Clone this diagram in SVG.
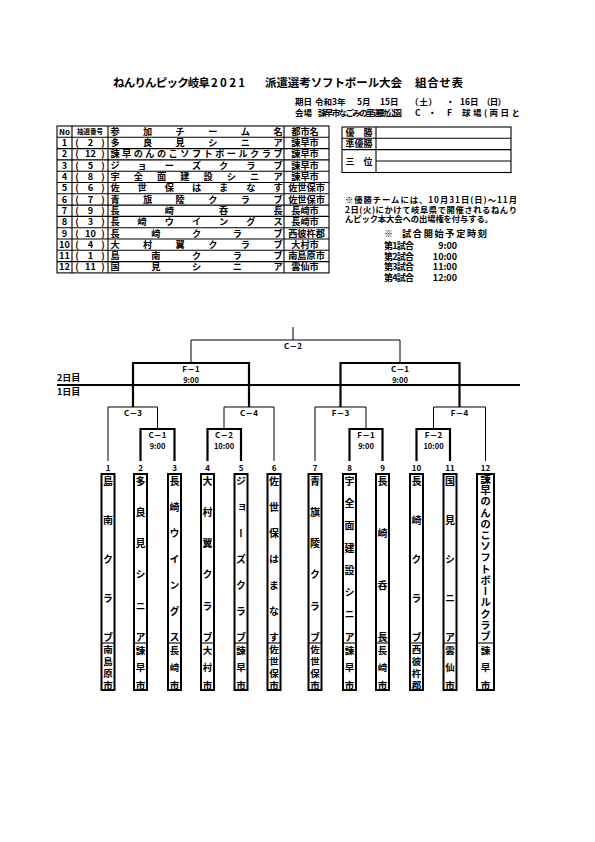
<svg xmlns="http://www.w3.org/2000/svg" width="595" height="842" viewBox="0 0 595 842">
<style>
.t{font-family:"Noto Sans CJK JP","Noto Sans",sans-serif;font-weight:bold;fill:#000}
.m{text-anchor:middle}
.v{writing-mode:vertical-rl;text-anchor:middle}
.thin{stroke:#000;stroke-width:1;fill:none}
.thick{stroke:#000;stroke-width:2.2;fill:none}
.tb{stroke:#000;stroke-width:2;fill:#fff}
.g{stroke:#000;stroke-width:1.1;fill:none}
</style>
<rect width="595" height="842" fill="#fff"/>

<g id="title">
<text class="t" font-size="11.5" x="113" y="87" textLength="97">ねんりんピック岐阜</text>
<text class="t" font-size="11.5" x="211" y="87" textLength="34">2021</text>
<text class="t" font-size="11.5" x="265" y="87" textLength="137">派遣選考ソフトボール大会</text>
<text class="t" font-size="11.5" x="415" y="87" textLength="48">組合せ表</text>
</g>
<g id="date" class="t" font-size="8.5">
<text x="295" y="105">期日</text>
<text x="315" y="105">令和3年</text>
<text x="357" y="105">5月</text>
<text x="380" y="105">15日</text>
<text x="410" y="105" textLength="27">（土）</text>
<text x="446" y="105">・</text>
<text x="460" y="105">16日</text>
<text x="482" y="105" textLength="24">（日）</text>
<text x="295" y="115.5">会場</text>
<text x="318" y="115.5" textLength="84">諫早市なごみの里運動公園</text>
<text x="415" y="115.5">C</text>
<text x="428" y="115.5">・</text>
<text x="447" y="115.5">F</text>
<text x="462" y="115.5" textLength="58">球場(両日と</text>
</g>

<g id="entry-table">
<rect class="g" x="57" y="126" width="272" height="146.9" stroke-width="2"/>
<path class="g" d="M57 137.3H329M57 148.6H329M57 159.9H329M57 171.2H329M57 182.5H329M57 193.8H329M57 205.1H329M57 216.4H329M57 227.7H329M57 239H329M57 250.3H329M57 261.6H329M72 126V272.9M108 126V272.9M284 126V272.9"/>
<g class="t" font-size="9.2">
<text class="m" x="64.5" y="134.8" font-size="8">No</text>
<text class="m" x="90" y="134.3" font-size="6.5">抽選番号</text>
<text class="m" x="115 147.6 180.2 212.8 245.4 278" y="134.8">参加チーム名</text>
<text class="m" x="305" y="134.8">都市名</text>

<text class="m" x="64.5" y="146.1">1</text><text class="m" x="77" y="146.1">(</text><text class="m" x="90.5" y="146.1">2</text><text class="m" x="103" y="146.1">)</text>
<text class="m" x="115 147.6 180.2 212.8 245.4 278" y="146.1">多良見シニア</text><text class="m" x="305" y="146.1">諫早市</text>

<text class="m" x="64.5" y="157.4">2</text><text class="m" x="77" y="157.4">(</text><text class="m" x="90.5" y="157.4">12</text><text class="m" x="103" y="157.4">)</text>
<text class="m" x="115 126.6 138.3 149.9 161.6 173.2 184.9 196.5 208.1 219.8 231.4 243.1 254.7 266.4 278" y="157.4">諫早のんのこソフトボールクラブ</text><text class="m" x="305" y="157.4">諫早市</text>

<text class="m" x="64.5" y="168.7">3</text><text class="m" x="77" y="168.7">(</text><text class="m" x="90.5" y="168.7">5</text><text class="m" x="103" y="168.7">)</text>
<text class="m" x="115 142.2 169.3 196.5 223.7 250.8 278" y="168.7">ジョーズクラブ</text><text class="m" x="305" y="168.7">諫早市</text>

<text class="m" x="64.5" y="180">4</text><text class="m" x="77" y="180">(</text><text class="m" x="90.5" y="180">8</text><text class="m" x="103" y="180">)</text>
<text class="m" x="115 138.3 161.6 184.9 208.1 231.4 254.7 278" y="180">宇全面建設シニア</text><text class="m" x="305" y="180">諫早市</text>

<text class="m" x="64.5" y="191.3">5</text><text class="m" x="77" y="191.3">(</text><text class="m" x="90.5" y="191.3">6</text><text class="m" x="103" y="191.3">)</text>
<text class="m" x="115 142.2 169.3 196.5 223.7 250.8 278" y="191.3">佐世保はまなす</text><text class="m" x="306.5" y="191.3">佐世保市</text>

<text class="m" x="64.5" y="202.6">6</text><text class="m" x="77" y="202.6">(</text><text class="m" x="90.5" y="202.6">7</text><text class="m" x="103" y="202.6">)</text>
<text class="m" x="115 147.6 180.2 212.8 245.4 278" y="202.6">青旗陵クラブ</text><text class="m" x="306.5" y="202.6">佐世保市</text>

<text class="m" x="64.5" y="213.9">7</text><text class="m" x="77" y="213.9">(</text><text class="m" x="90.5" y="213.9">9</text><text class="m" x="103" y="213.9">)</text>
<text class="m" x="115 169.3 223.7 278" y="213.9">長崎呑長</text><text class="m" x="305" y="213.9">長崎市</text>

<text class="m" x="64.5" y="225.2">8</text><text class="m" x="77" y="225.2">(</text><text class="m" x="90.5" y="225.2">3</text><text class="m" x="103" y="225.2">)</text>
<text class="m" x="115 142.2 169.3 196.5 223.7 250.8 278" y="225.2">長崎ウイングス</text><text class="m" x="305" y="225.2">長崎市</text>

<text class="m" x="64.5" y="236.5">9</text><text class="m" x="77" y="236.5">(</text><text class="m" x="90.5" y="236.5">10</text><text class="m" x="103" y="236.5">)</text>
<text class="m" x="115 155.75 196.5 237.25 278" y="236.5">長崎クラブ</text><text class="m" x="306.5" y="236.5">西彼杵郡</text>

<text class="m" x="64.5" y="247.8">10</text><text class="m" x="77" y="247.8">(</text><text class="m" x="90.5" y="247.8">4</text><text class="m" x="103" y="247.8">)</text>
<text class="m" x="115 147.6 180.2 212.8 245.4 278" y="247.8">大村翼クラブ</text><text class="m" x="305" y="247.8">大村市</text>

<text class="m" x="64.5" y="259.1">11</text><text class="m" x="77" y="259.1">(</text><text class="m" x="90.5" y="259.1">1</text><text class="m" x="103" y="259.1">)</text>
<text class="m" x="115 155.75 196.5 237.25 278" y="259.1">島南クラブ</text><text class="m" x="306.5" y="259.1">南島原市</text>

<text class="m" x="64.5" y="270.4">12</text><text class="m" x="77" y="270.4">(</text><text class="m" x="90.5" y="270.4">11</text><text class="m" x="103" y="270.4">)</text>
<text class="m" x="115 155.75 196.5 237.25 278" y="270.4">国見シニア</text><text class="m" x="305" y="270.4">雲仙市</text>
</g>
</g>

<g id="result-table">
<rect class="g" x="342" y="127" width="169" height="45.5" stroke-width="2"/>
<path class="g" d="M342 138.3H511M342 149.6H511M376 161H511M376 127V172.5"/>
<g class="t" font-size="9">
<text class="m" x="359" y="136">優　勝</text>
<text class="m" x="359" y="147.3">準優勝</text>
<text class="m" x="359" y="164.5">三　位</text>
</g>
</g>

<g id="notes" class="t" font-size="8.3">
<text x="345" y="203" textLength="172">※優勝チームには、10月31日(日)～11月</text>
<text x="345" y="212.5" textLength="172">2日(火)にかけて岐阜県で開催されるねんり</text>
<text x="345" y="222" textLength="148">んピック本大会への出場権を付与する。</text>
<text x="384" y="237" font-size="9">※</text>
<text x="402" y="237" font-size="9.2" textLength="85">試合開始予定時刻</text>
<g font-size="9">
<text x="384" y="249" textLength="30">第1試合</text><text x="457" y="249" text-anchor="end">9:00</text>
<text x="384" y="259.5" textLength="30">第2試合</text><text x="457" y="259.5" text-anchor="end">10:00</text>
<text x="384" y="270" textLength="30">第3試合</text><text x="457" y="270" text-anchor="end">11:00</text>
<text x="384" y="280.5" textLength="30">第4試合</text><text x="457" y="280.5" text-anchor="end">12:00</text>
</g>
</g>

<g id="connectors">
<path class="thick" d="M57 385H520"/>
<path class="thin" d="M293 327V340M191 363V340H400V363"/>
<path class="thick" d="M133 407V363H249V407"/>
<path class="thick" d="M340.5 407V363H459.5V407"/>
<path class="thin" d="M108 461V407H157.5V429M224 429V407H274V461"/>
<path class="thin" d="M315 461V407H366V429M433.5 429V407H485.5V461"/>
<path class="thick" d="M140.5 461V429H174.5V461"/>
<path class="thick" d="M207.5 461V429H241V461"/>
<path class="thick" d="M349.5 461V429H382.5V461"/>
<path class="thick" d="M416.5 461V429H450V461"/>
</g>

<g id="labels" class="t" font-size="8">
<text x="57" y="381" font-size="9">2日目</text>
<text x="57" y="395" font-size="9">1日目</text>
<text class="m" x="293" y="349">C－2</text>
<text class="m" x="191" y="372">F－1</text><text class="m" x="191" y="382.5" font-size="7.5">9:00</text>
<text class="m" x="400" y="372">C－1</text><text class="m" x="400" y="382.5" font-size="7.5">9:00</text>
<text class="m" x="133" y="416">C－3</text>
<text class="m" x="249" y="416">C－4</text>
<text class="m" x="340.5" y="416">F－3</text>
<text class="m" x="459.5" y="416">F－4</text>
<text class="m" x="157.5" y="438">C－1</text><text class="m" x="157.5" y="449" font-size="7.5">9:00</text>
<text class="m" x="224" y="438">C－2</text><text class="m" x="224" y="449" font-size="7.5">10:00</text>
<text class="m" x="366" y="438">F－1</text><text class="m" x="366" y="449" font-size="7.5">9:00</text>
<text class="m" x="433.5" y="438">F－2</text><text class="m" x="433.5" y="449" font-size="7.5">10:00</text>
</g>

<g id="team1"><rect class="tb" x="101.5" y="474" width="13" height="216"/><path class="g" d="M101.5 643H114.5" stroke-width="0.8"/>
<text class="t m" x="108" y="471" font-size="8">1</text>
<text class="t v" font-size="10" x="108" y="481 520 559 598 637">島南クラブ</text>
<text class="t v" font-size="9.5" x="108" y="649 661 673 685">南島原市</text></g>

<g id="team2"><rect class="tb" x="134" y="474" width="13" height="216"/><path class="g" d="M134 643H147" stroke-width="0.8"/>
<text class="t m" x="140.5" y="471" font-size="8">2</text>
<text class="t v" font-size="10" x="140.5" y="481 512.2 543.4 574.6 605.8 637">多良見シニア</text>
<text class="t v" font-size="9.5" x="140.5" y="650 667.5 685">諫早市</text></g>

<g id="team3"><rect class="tb" x="168" y="474" width="13" height="216"/><path class="g" d="M168 643H181" stroke-width="0.8"/>
<text class="t m" x="174.5" y="471" font-size="8">3</text>
<text class="t v" font-size="10" x="174.5" y="481 507 533 559 585 611 637">長崎ウイングス</text>
<text class="t v" font-size="9.5" x="174.5" y="650 667.5 685">長崎市</text></g>

<g id="team4"><rect class="tb" x="201" y="474" width="13" height="216"/><path class="g" d="M201 643H214" stroke-width="0.8"/>
<text class="t m" x="207.5" y="471" font-size="8">4</text>
<text class="t v" font-size="10" x="207.5" y="481 512.2 543.4 574.6 605.8 637">大村翼クラブ</text>
<text class="t v" font-size="9.5" x="207.5" y="650 667.5 685">大村市</text></g>

<g id="team5"><rect class="tb" x="234.5" y="474" width="13" height="216"/><path class="g" d="M234.5 643H247.5" stroke-width="0.8"/>
<text class="t m" x="241" y="471" font-size="8">5</text>
<text class="t v" font-size="10" x="241" y="481 507 533 559 585 611 637">ジョーズクラブ</text>
<text class="t v" font-size="9.5" x="241" y="650 667.5 685">諫早市</text></g>

<g id="team6"><rect class="tb" x="267.5" y="474" width="13" height="216"/><path class="g" d="M267.5 643H280.5" stroke-width="0.8"/>
<text class="t m" x="274" y="471" font-size="8">6</text>
<text class="t v" font-size="10" x="274" y="481 507 533 559 585 611 637">佐世保はまなす</text>
<text class="t v" font-size="9.5" x="274" y="649 661 673 685">佐世保市</text></g>

<g id="team7"><rect class="tb" x="308.5" y="474" width="13" height="216"/><path class="g" d="M308.5 643H321.5" stroke-width="0.8"/>
<text class="t m" x="315" y="471" font-size="8">7</text>
<text class="t v" font-size="10" x="315" y="481 512.2 543.4 574.6 605.8 637">青旗陵クラブ</text>
<text class="t v" font-size="9.5" x="315" y="649 661 673 685">佐世保市</text></g>

<g id="team8"><rect class="tb" x="343" y="474" width="13" height="216"/><path class="g" d="M343 643H356" stroke-width="0.8"/>
<text class="t m" x="349.5" y="471" font-size="8">8</text>
<text class="t v" font-size="10" x="349.5" y="481 503.3 525.6 547.9 570.1 592.4 614.7 637">宇全面建設シニア</text>
<text class="t v" font-size="9.5" x="349.5" y="650 667.5 685">諫早市</text></g>

<g id="team9"><rect class="tb" x="376" y="474" width="13" height="216"/><path class="g" d="M376 643H389" stroke-width="0.8"/>
<text class="t m" x="382.5" y="471" font-size="8">9</text>
<text class="t v" font-size="10" x="382.5" y="481 533 585 637">長崎呑長</text>
<text class="t v" font-size="9.5" x="382.5" y="650 667.5 685">長崎市</text></g>

<g id="team10"><rect class="tb" x="410" y="474" width="13" height="216"/><path class="g" d="M410 643H423" stroke-width="0.8"/>
<text class="t m" x="416.5" y="471" font-size="8">10</text>
<text class="t v" font-size="10" x="416.5" y="481 520 559 598 637">長崎クラブ</text>
<text class="t v" font-size="9.5" x="416.5" y="649 661 673 685">西彼杵郡</text></g>

<g id="team11"><rect class="tb" x="443.5" y="474" width="13" height="216"/><path class="g" d="M443.5 643H456.5" stroke-width="0.8"/>
<text class="t m" x="450" y="471" font-size="8">11</text>
<text class="t v" font-size="10" x="450" y="481 520 559 598 637">国見シニア</text>
<text class="t v" font-size="9.5" x="450" y="650 667.5 685">雲仙市</text></g>

<g id="team12"><rect class="tb" x="477" y="474" width="17" height="216"/><path class="g" d="M477 643H494" stroke-width="0.8"/>
<text class="t m" x="485.5" y="471" font-size="8">12</text>
<text class="t v" font-size="10.5" x="485.5" y="479 490.2 501.4 512.6 523.8 535.1 546.3 557.5 568.7 579.9 591.1 602.4 613.6 624.8 636">諫早のんのこソフトボールクラブ</text>
<text class="t v" font-size="9.5" x="485.5" y="650 667.5 685">諫早市</text></g>
</svg>
